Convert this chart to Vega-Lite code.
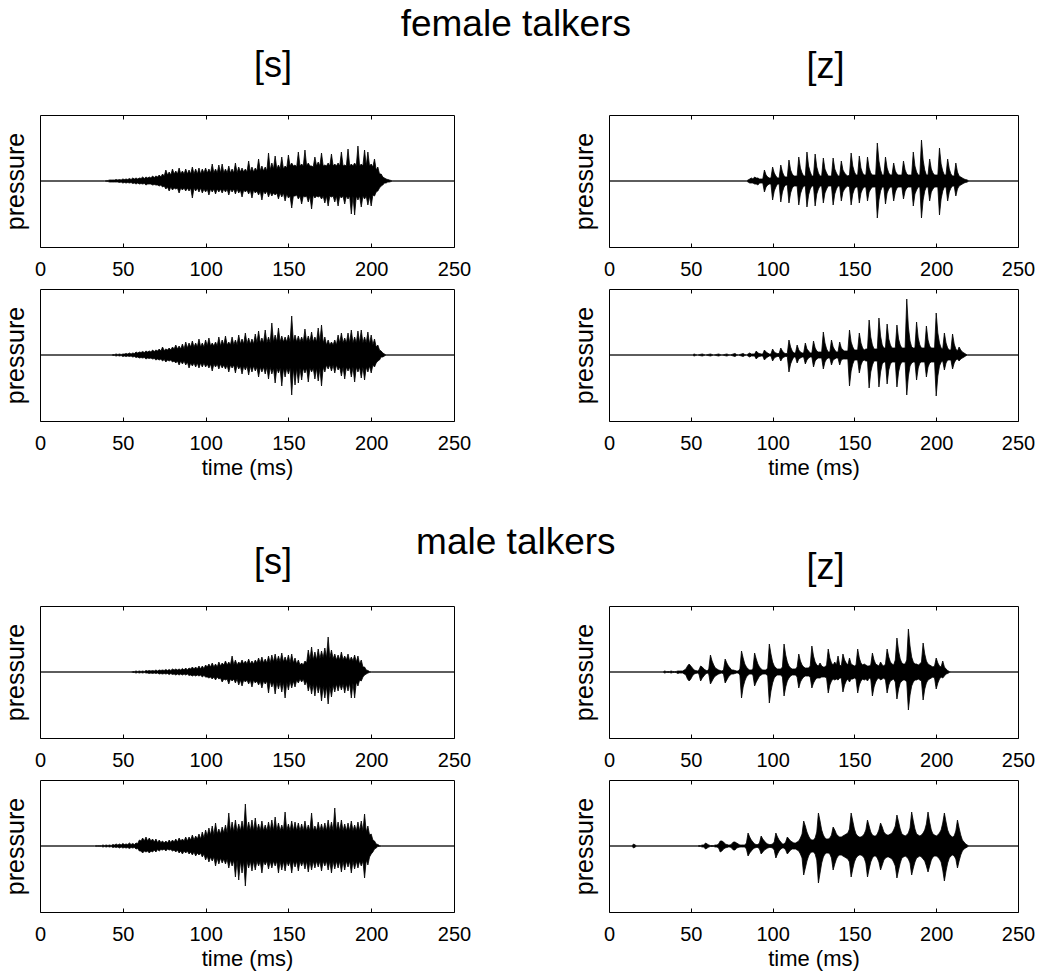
{
  "$schema": "https://vega.github.io/schema/vega-lite/v6.json",
  "padding": {"left": 2, "top": 6, "right": 5, "bottom": 5},
  "background": "white",
  "config": {
    "font": "Liberation Sans",
    "view": {"stroke": "black", "strokeWidth": 1},
    "axis": {"labelColor": "black", "titleColor": "black", "titleFontWeight": "normal", "grid": false, "labelFont": "Liberation Sans", "titleFont": "Liberation Sans", "tickColor": "black"},
    "title": {"fontWeight": "normal", "color": "black", "fontSize": 36, "font": "Liberation Sans"}
  },
  "datasets": {
    "fs1": [{"t":0,"h":0,"l":0},{"t":39,"h":0,"l":0},{"t":40,"h":0.5,"l":-0.5},{"t":41,"h":0.5,"l":-0.5},{"t":42,"h":1,"l":-1},{"t":43,"h":1,"l":-1},{"t":44,"h":1,"l":-1},{"t":45,"h":1,"l":-1},{"t":46,"h":1.5,"l":-1},{"t":47,"h":1,"l":-1},{"t":48,"h":1.5,"l":-1.5},{"t":49,"h":1,"l":-1},{"t":50,"h":2,"l":-2},{"t":51,"h":1.5,"l":-1.5},{"t":52,"h":2,"l":-2},{"t":53,"h":1.5,"l":-1.5},{"t":54,"h":2.5,"l":-2},{"t":55,"h":1.5,"l":-1.5},{"t":56,"h":3,"l":-2.5},{"t":57,"h":2,"l":-2},{"t":58,"h":3,"l":-3},{"t":59,"h":2,"l":-2},{"t":60,"h":3,"l":-3},{"t":61,"h":2.5,"l":-2.5},{"t":62,"h":4,"l":-3},{"t":63,"h":2.5,"l":-2.5},{"t":64,"h":4,"l":-4},{"t":65,"h":3,"l":-3},{"t":66,"h":4,"l":-3},{"t":67,"h":3,"l":-3},{"t":68,"h":5,"l":-4},{"t":69,"h":3.5,"l":-3.5},{"t":70,"h":5,"l":-4},{"t":71,"h":4,"l":-4},{"t":72,"h":6,"l":-5},{"t":73,"h":4,"l":-4},{"t":74,"h":7,"l":-6},{"t":75,"h":5,"l":-5},{"t":76,"h":11,"l":-8},{"t":77,"h":6,"l":-6},{"t":78,"h":9,"l":-10},{"t":79,"h":6,"l":-6},{"t":80,"h":12,"l":-9},{"t":81,"h":7,"l":-7},{"t":82,"h":10,"l":-8},{"t":83,"h":7,"l":-7},{"t":84,"h":13,"l":-12},{"t":85,"h":7,"l":-7},{"t":86,"h":10,"l":-9},{"t":87,"h":7,"l":-7},{"t":88,"h":12,"l":-10},{"t":89,"h":7,"l":-7},{"t":90,"h":11,"l":-10},{"t":91,"h":7,"l":-7},{"t":92,"h":14,"l":-17},{"t":93,"h":7,"l":-7},{"t":94,"h":12,"l":-10},{"t":95,"h":7,"l":-7},{"t":96,"h":13,"l":-11},{"t":97,"h":7,"l":-7},{"t":98,"h":12,"l":-12},{"t":99,"h":8,"l":-8},{"t":100,"h":13,"l":-11},{"t":101,"h":8,"l":-8},{"t":102,"h":12,"l":-14},{"t":103,"h":8,"l":-8},{"t":104,"h":17,"l":-11},{"t":105,"h":8,"l":-8},{"t":106,"h":12,"l":-13},{"t":107,"h":8,"l":-8},{"t":108,"h":16,"l":-11},{"t":109,"h":8,"l":-8},{"t":110,"h":17,"l":-12},{"t":111,"h":8,"l":-8},{"t":112,"h":12,"l":-11},{"t":113,"h":8,"l":-8},{"t":114,"h":15,"l":-14},{"t":115,"h":8,"l":-8},{"t":116,"h":12,"l":-11},{"t":117,"h":8,"l":-8},{"t":118,"h":18,"l":-13},{"t":119,"h":8,"l":-8},{"t":120,"h":14,"l":-12},{"t":121,"h":9,"l":-9},{"t":122,"h":13,"l":-16},{"t":123,"h":9,"l":-9},{"t":124,"h":12,"l":-11},{"t":125,"h":9,"l":-9},{"t":126,"h":20,"l":-13},{"t":127,"h":9,"l":-9},{"t":128,"h":14,"l":-17},{"t":129,"h":9,"l":-9},{"t":130,"h":13,"l":-12},{"t":131,"h":10,"l":-10},{"t":132,"h":22,"l":-14},{"t":133,"h":10,"l":-10},{"t":134,"h":15,"l":-19},{"t":135,"h":10,"l":-10},{"t":136,"h":14,"l":-13},{"t":137,"h":10,"l":-10},{"t":138,"h":28,"l":-16},{"t":139,"h":11,"l":-11},{"t":140,"h":18,"l":-15},{"t":141,"h":12,"l":-12},{"t":142,"h":25,"l":-14},{"t":143,"h":12,"l":-12},{"t":144,"h":16,"l":-18},{"t":145,"h":12,"l":-12},{"t":146,"h":24,"l":-16},{"t":147,"h":12,"l":-12},{"t":148,"h":15,"l":-20},{"t":149,"h":13,"l":-13},{"t":150,"h":26,"l":-17},{"t":151,"h":15,"l":-15},{"t":152,"h":18,"l":-27},{"t":153,"h":15,"l":-15},{"t":154,"h":16,"l":-15},{"t":155,"h":14,"l":-14},{"t":156,"h":29,"l":-18},{"t":157,"h":15,"l":-15},{"t":158,"h":17,"l":-23},{"t":159,"h":15,"l":-15},{"t":160,"h":31,"l":-16},{"t":161,"h":15,"l":-15},{"t":162,"h":18,"l":-21},{"t":163,"h":15,"l":-15},{"t":164,"h":15,"l":-28},{"t":165,"h":14,"l":-14},{"t":166,"h":24,"l":-17},{"t":167,"h":15,"l":-15},{"t":168,"h":19,"l":-16},{"t":169,"h":15,"l":-15},{"t":170,"h":28,"l":-18},{"t":171,"h":15,"l":-15},{"t":172,"h":16,"l":-22},{"t":173,"h":15,"l":-15},{"t":174,"h":18,"l":-25},{"t":175,"h":15,"l":-15},{"t":176,"h":27,"l":-16},{"t":177,"h":15,"l":-15},{"t":178,"h":17,"l":-21},{"t":179,"h":15,"l":-15},{"t":180,"h":18,"l":-25},{"t":181,"h":15,"l":-15},{"t":182,"h":29,"l":-17},{"t":183,"h":15,"l":-15},{"t":184,"h":16,"l":-23},{"t":185,"h":15,"l":-15},{"t":186,"h":32,"l":-18},{"t":187,"h":15,"l":-15},{"t":188,"h":17,"l":-33},{"t":189,"h":15,"l":-15},{"t":190,"h":18,"l":-34},{"t":191,"h":15,"l":-15},{"t":192,"h":35,"l":-19},{"t":193,"h":15,"l":-15},{"t":194,"h":17,"l":-26},{"t":195,"h":15,"l":-15},{"t":196,"h":31,"l":-18},{"t":197,"h":15,"l":-15},{"t":198,"h":29,"l":-24},{"t":199,"h":15,"l":-15},{"t":200,"h":17,"l":-25},{"t":201,"h":14,"l":-14},{"t":202,"h":22,"l":-15},{"t":203,"h":11,"l":-11},{"t":204,"h":14,"l":-10},{"t":205,"h":7,"l":-7},{"t":206,"h":7,"l":-5},{"t":207,"h":4,"l":-4},{"t":208,"h":3,"l":-2},{"t":209,"h":2,"l":-2},{"t":210,"h":1.5,"l":-1},{"t":211,"h":1,"l":-1},{"t":212,"h":0.5,"l":-0.5},{"t":213,"h":0,"l":0},{"t":250,"h":0,"l":0}],
    "fs2": [{"t":0,"h":0,"l":0},{"t":43,"h":0,"l":0},{"t":44,"h":0.5,"l":-0.5},{"t":45,"h":0.5,"l":-0.5},{"t":46,"h":1,"l":-1},{"t":47,"h":0.5,"l":-0.5},{"t":48,"h":1,"l":-1},{"t":49,"h":0.5,"l":-0.5},{"t":50,"h":1,"l":-1.5},{"t":51,"h":1,"l":-1},{"t":52,"h":1.5,"l":-1.5},{"t":53,"h":1,"l":-1},{"t":54,"h":2,"l":-1.5},{"t":55,"h":1,"l":-1},{"t":56,"h":2,"l":-2},{"t":57,"h":1.5,"l":-1.5},{"t":58,"h":3,"l":-2.5},{"t":59,"h":2,"l":-2},{"t":60,"h":3,"l":-3},{"t":61,"h":2.5,"l":-2.5},{"t":62,"h":3.5,"l":-3},{"t":63,"h":2.5,"l":-2.5},{"t":64,"h":4,"l":-4},{"t":65,"h":3,"l":-3},{"t":66,"h":4,"l":-3.5},{"t":67,"h":3,"l":-3},{"t":68,"h":5,"l":-4},{"t":69,"h":3.5,"l":-3.5},{"t":70,"h":5,"l":-5},{"t":71,"h":4,"l":-4},{"t":72,"h":6,"l":-5},{"t":73,"h":4,"l":-4},{"t":74,"h":8,"l":-6},{"t":75,"h":4.5,"l":-4.5},{"t":76,"h":6,"l":-7},{"t":77,"h":5,"l":-5},{"t":78,"h":7,"l":-6},{"t":79,"h":5,"l":-5},{"t":80,"h":8,"l":-7},{"t":81,"h":6,"l":-6},{"t":82,"h":10,"l":-8},{"t":83,"h":6,"l":-6},{"t":84,"h":9,"l":-10},{"t":85,"h":6,"l":-6},{"t":86,"h":11,"l":-9},{"t":87,"h":6,"l":-6},{"t":88,"h":13,"l":-10},{"t":89,"h":7,"l":-7},{"t":90,"h":12,"l":-13},{"t":91,"h":8,"l":-8},{"t":92,"h":14,"l":-11},{"t":93,"h":8,"l":-8},{"t":94,"h":12,"l":-12},{"t":95,"h":8,"l":-8},{"t":96,"h":16,"l":-13},{"t":97,"h":8,"l":-8},{"t":98,"h":12,"l":-12},{"t":99,"h":8,"l":-8},{"t":100,"h":15,"l":-12},{"t":101,"h":9,"l":-9},{"t":102,"h":17,"l":-13},{"t":103,"h":9,"l":-9},{"t":104,"h":12,"l":-16},{"t":105,"h":9,"l":-9},{"t":106,"h":13,"l":-12},{"t":107,"h":9,"l":-9},{"t":108,"h":18,"l":-14},{"t":109,"h":9,"l":-9},{"t":110,"h":15,"l":-13},{"t":111,"h":10,"l":-10},{"t":112,"h":19,"l":-14},{"t":113,"h":10,"l":-10},{"t":114,"h":13,"l":-17},{"t":115,"h":10,"l":-10},{"t":116,"h":18,"l":-13},{"t":117,"h":10,"l":-10},{"t":118,"h":15,"l":-18},{"t":119,"h":10,"l":-10},{"t":120,"h":20,"l":-14},{"t":121,"h":11,"l":-11},{"t":122,"h":16,"l":-19},{"t":123,"h":11,"l":-11},{"t":124,"h":22,"l":-15},{"t":125,"h":11,"l":-11},{"t":126,"h":17,"l":-20},{"t":127,"h":11,"l":-11},{"t":128,"h":16,"l":-17},{"t":129,"h":11,"l":-11},{"t":130,"h":21,"l":-16},{"t":131,"h":12,"l":-12},{"t":132,"h":24,"l":-22},{"t":133,"h":12,"l":-12},{"t":134,"h":17,"l":-17},{"t":135,"h":12,"l":-12},{"t":136,"h":25,"l":-19},{"t":137,"h":12,"l":-12},{"t":138,"h":18,"l":-24},{"t":139,"h":12,"l":-12},{"t":140,"h":32,"l":-19},{"t":141,"h":13,"l":-13},{"t":142,"h":20,"l":-28},{"t":143,"h":13,"l":-13},{"t":144,"h":27,"l":-18},{"t":145,"h":13,"l":-13},{"t":146,"h":19,"l":-31},{"t":147,"h":13,"l":-13},{"t":148,"h":18,"l":-22},{"t":149,"h":13,"l":-13},{"t":150,"h":20,"l":-19},{"t":151,"h":13,"l":-13},{"t":152,"h":39,"l":-40},{"t":153,"h":13,"l":-13},{"t":154,"h":20,"l":-30},{"t":155,"h":13,"l":-13},{"t":156,"h":19,"l":-28},{"t":157,"h":13,"l":-13},{"t":158,"h":18,"l":-25},{"t":159,"h":13,"l":-13},{"t":160,"h":26,"l":-18},{"t":161,"h":13,"l":-13},{"t":162,"h":19,"l":-27},{"t":163,"h":13,"l":-13},{"t":164,"h":23,"l":-17},{"t":165,"h":13,"l":-13},{"t":166,"h":18,"l":-24},{"t":167,"h":13,"l":-13},{"t":168,"h":27,"l":-26},{"t":169,"h":13,"l":-13},{"t":170,"h":30,"l":-31},{"t":171,"h":12,"l":-12},{"t":172,"h":18,"l":-17},{"t":173,"h":10,"l":-10},{"t":174,"h":15,"l":-14},{"t":175,"h":10,"l":-10},{"t":176,"h":13,"l":-16},{"t":177,"h":10,"l":-10},{"t":178,"h":15,"l":-18},{"t":179,"h":10,"l":-10},{"t":180,"h":20,"l":-15},{"t":181,"h":12,"l":-12},{"t":182,"h":22,"l":-21},{"t":183,"h":12,"l":-12},{"t":184,"h":17,"l":-24},{"t":185,"h":12,"l":-12},{"t":186,"h":22,"l":-16},{"t":187,"h":12,"l":-12},{"t":188,"h":25,"l":-22},{"t":189,"h":12,"l":-12},{"t":190,"h":18,"l":-27},{"t":191,"h":12,"l":-12},{"t":192,"h":24,"l":-17},{"t":193,"h":12,"l":-12},{"t":194,"h":25,"l":-23},{"t":195,"h":12,"l":-12},{"t":196,"h":18,"l":-25},{"t":197,"h":12,"l":-12},{"t":198,"h":23,"l":-17},{"t":199,"h":11,"l":-11},{"t":200,"h":20,"l":-18},{"t":201,"h":10,"l":-10},{"t":202,"h":16,"l":-12},{"t":203,"h":8,"l":-8},{"t":204,"h":10,"l":-6},{"t":205,"h":5,"l":-5},{"t":206,"h":4,"l":-2},{"t":207,"h":2,"l":-2},{"t":208,"h":1,"l":-1},{"t":209,"h":0,"l":0},{"t":250,"h":0,"l":0}],
    "fz1": [{"t":0,"h":0,"l":0},{"t":84,"h":0,"l":0},{"t":85,"h":1,"l":-1},{"t":86,"h":2,"l":-2},{"t":87,"h":3,"l":-2},{"t":88,"h":2,"l":-2},{"t":89,"h":4,"l":-3},{"t":90,"h":3,"l":-3},{"t":91,"h":3,"l":-4},{"t":92,"h":2,"l":-2},{"t":93,"h":2,"l":-2},{"t":94,"h":2,"l":-2},{"t":95,"h":11,"l":-11},{"t":96,"h":6,"l":-6},{"t":97,"h":4,"l":-4},{"t":98,"h":3,"l":-3},{"t":99,"h":3,"l":-3},{"t":100,"h":14,"l":-19},{"t":101,"h":8,"l":-10},{"t":102,"h":5,"l":-6},{"t":103,"h":3,"l":-3},{"t":104,"h":3,"l":-3},{"t":105,"h":16,"l":-21},{"t":106,"h":9,"l":-11},{"t":107,"h":5,"l":-6},{"t":108,"h":4,"l":-4},{"t":109,"h":4,"l":-4},{"t":110,"h":21,"l":-22},{"t":111,"h":11,"l":-12},{"t":112,"h":7,"l":-7},{"t":113,"h":5,"l":-5},{"t":114,"h":5,"l":-5},{"t":115,"h":5,"l":-5},{"t":116,"h":24,"l":-24},{"t":117,"h":13,"l":-13},{"t":118,"h":8,"l":-8},{"t":119,"h":5,"l":-5},{"t":120,"h":5,"l":-5},{"t":121,"h":29,"l":-26},{"t":122,"h":15,"l":-14},{"t":123,"h":9,"l":-8},{"t":124,"h":5,"l":-5},{"t":125,"h":5,"l":-5},{"t":126,"h":27,"l":-25},{"t":127,"h":14,"l":-13},{"t":128,"h":8,"l":-8},{"t":129,"h":5,"l":-5},{"t":130,"h":5,"l":-5},{"t":131,"h":23,"l":-22},{"t":132,"h":12,"l":-12},{"t":133,"h":8,"l":-8},{"t":134,"h":5,"l":-5},{"t":135,"h":5,"l":-5},{"t":136,"h":5,"l":-5},{"t":137,"h":23,"l":-24},{"t":138,"h":12,"l":-13},{"t":139,"h":8,"l":-8},{"t":140,"h":5,"l":-5},{"t":141,"h":5,"l":-5},{"t":142,"h":20,"l":-20},{"t":143,"h":11,"l":-11},{"t":144,"h":8,"l":-8},{"t":145,"h":6,"l":-6},{"t":146,"h":5,"l":-5},{"t":147,"h":6,"l":-6},{"t":148,"h":28,"l":-24},{"t":149,"h":15,"l":-13},{"t":150,"h":9,"l":-8},{"t":151,"h":6,"l":-6},{"t":152,"h":6,"l":-6},{"t":153,"h":25,"l":-22},{"t":154,"h":13,"l":-12},{"t":155,"h":8,"l":-8},{"t":156,"h":6,"l":-6},{"t":157,"h":6,"l":-6},{"t":158,"h":24,"l":-20},{"t":159,"h":13,"l":-11},{"t":160,"h":8,"l":-8},{"t":161,"h":6,"l":-6},{"t":162,"h":6,"l":-6},{"t":163,"h":6,"l":-6},{"t":164,"h":38,"l":-37},{"t":165,"h":20,"l":-19},{"t":166,"h":11,"l":-10},{"t":167,"h":6,"l":-6},{"t":168,"h":6,"l":-6},{"t":169,"h":24,"l":-23},{"t":170,"h":13,"l":-12},{"t":171,"h":8,"l":-8},{"t":172,"h":6,"l":-6},{"t":173,"h":6,"l":-6},{"t":174,"h":18,"l":-20},{"t":175,"h":10,"l":-11},{"t":176,"h":7,"l":-7},{"t":177,"h":6,"l":-6},{"t":178,"h":6,"l":-6},{"t":179,"h":6,"l":-6},{"t":180,"h":20,"l":-18},{"t":181,"h":11,"l":-10},{"t":182,"h":7,"l":-7},{"t":183,"h":6,"l":-6},{"t":184,"h":6,"l":-6},{"t":185,"h":6,"l":-6},{"t":186,"h":29,"l":-25},{"t":187,"h":15,"l":-13},{"t":188,"h":9,"l":-9},{"t":189,"h":6,"l":-6},{"t":190,"h":6,"l":-6},{"t":191,"h":41,"l":-37},{"t":192,"h":21,"l":-19},{"t":193,"h":11,"l":-10},{"t":194,"h":6,"l":-6},{"t":195,"h":6,"l":-6},{"t":196,"h":22,"l":-20},{"t":197,"h":12,"l":-11},{"t":198,"h":8,"l":-8},{"t":199,"h":6,"l":-6},{"t":200,"h":6,"l":-6},{"t":201,"h":6,"l":-6},{"t":202,"h":33,"l":-34},{"t":203,"h":17,"l":-18},{"t":204,"h":10,"l":-10},{"t":205,"h":6,"l":-6},{"t":206,"h":6,"l":-6},{"t":207,"h":22,"l":-20},{"t":208,"h":12,"l":-11},{"t":209,"h":7,"l":-7},{"t":210,"h":5,"l":-5},{"t":211,"h":5,"l":-5},{"t":212,"h":18,"l":-15},{"t":213,"h":9,"l":-8},{"t":214,"h":5,"l":-5},{"t":215,"h":4,"l":-4},{"t":216,"h":3,"l":-3},{"t":217,"h":2,"l":-2},{"t":218,"h":1.5,"l":-1.5},{"t":219,"h":1,"l":-1},{"t":220,"h":0,"l":0},{"t":250,"h":0,"l":0}],
    "fz2": [{"t":0,"h":0,"l":0},{"t":51,"h":0,"l":0},{"t":52,"h":1,"l":-1},{"t":53,"h":0.5,"l":-0.5},{"t":54,"h":0,"l":0},{"t":57,"h":1,"l":-1},{"t":58,"h":0.5,"l":-0.5},{"t":59,"h":0,"l":0},{"t":62,"h":1,"l":-1},{"t":63,"h":0.5,"l":-0.5},{"t":64,"h":0,"l":0},{"t":67,"h":1,"l":-1},{"t":68,"h":0.5,"l":-0.5},{"t":69,"h":0,"l":0},{"t":72,"h":1,"l":-1},{"t":73,"h":0.5,"l":-0.5},{"t":74,"h":0,"l":0},{"t":77,"h":1.5,"l":-1.5},{"t":78,"h":0.5,"l":-0.5},{"t":79,"h":0,"l":0},{"t":82,"h":1.5,"l":-1.5},{"t":83,"h":0.5,"l":-0.5},{"t":84,"h":0,"l":0},{"t":86,"h":2,"l":-2},{"t":87,"h":1,"l":-1},{"t":88,"h":1,"l":-1},{"t":89,"h":1,"l":-1},{"t":90,"h":4,"l":-4},{"t":91,"h":2,"l":-2},{"t":92,"h":1.5,"l":-1.5},{"t":93,"h":1,"l":-1},{"t":94,"h":1,"l":-1},{"t":95,"h":5,"l":-5},{"t":96,"h":3,"l":-3},{"t":97,"h":2,"l":-2},{"t":98,"h":1,"l":-1},{"t":99,"h":1,"l":-1},{"t":100,"h":6,"l":-6},{"t":101,"h":3,"l":-3},{"t":102,"h":2,"l":-2},{"t":103,"h":1.5,"l":-1.5},{"t":104,"h":1.5,"l":-1.5},{"t":105,"h":7,"l":-6},{"t":106,"h":4,"l":-3},{"t":107,"h":2,"l":-2},{"t":108,"h":1.5,"l":-1.5},{"t":109,"h":1.5,"l":-1.5},{"t":110,"h":15,"l":-17},{"t":111,"h":8,"l":-9},{"t":112,"h":4,"l":-5},{"t":113,"h":2,"l":-2},{"t":114,"h":2,"l":-2},{"t":115,"h":10,"l":-8},{"t":116,"h":5,"l":-4},{"t":117,"h":3,"l":-3},{"t":118,"h":2,"l":-2},{"t":119,"h":2,"l":-2},{"t":120,"h":12,"l":-9},{"t":121,"h":6,"l":-5},{"t":122,"h":4,"l":-3},{"t":123,"h":2,"l":-2},{"t":124,"h":2,"l":-2},{"t":125,"h":14,"l":-12},{"t":126,"h":7,"l":-6},{"t":127,"h":4,"l":-4},{"t":128,"h":3,"l":-3},{"t":129,"h":3,"l":-3},{"t":130,"h":3,"l":-3},{"t":131,"h":23,"l":-14},{"t":132,"h":12,"l":-7},{"t":133,"h":6,"l":-4},{"t":134,"h":3,"l":-3},{"t":135,"h":3,"l":-3},{"t":136,"h":15,"l":-10},{"t":137,"h":8,"l":-5},{"t":138,"h":5,"l":-4},{"t":139,"h":3,"l":-3},{"t":140,"h":3,"l":-3},{"t":141,"h":13,"l":-10},{"t":142,"h":7,"l":-5},{"t":143,"h":5,"l":-4},{"t":144,"h":4,"l":-4},{"t":145,"h":4,"l":-4},{"t":146,"h":4,"l":-4},{"t":147,"h":25,"l":-31},{"t":148,"h":13,"l":-16},{"t":149,"h":8,"l":-9},{"t":150,"h":5,"l":-5},{"t":151,"h":5,"l":-5},{"t":152,"h":5,"l":-5},{"t":153,"h":22,"l":-18},{"t":154,"h":12,"l":-10},{"t":155,"h":7,"l":-6},{"t":156,"h":5,"l":-5},{"t":157,"h":6,"l":-6},{"t":158,"h":6,"l":-6},{"t":159,"h":35,"l":-33},{"t":160,"h":18,"l":-17},{"t":161,"h":10,"l":-10},{"t":162,"h":6,"l":-6},{"t":163,"h":6,"l":-6},{"t":164,"h":6,"l":-6},{"t":165,"h":37,"l":-32},{"t":166,"h":19,"l":-17},{"t":167,"h":10,"l":-9},{"t":168,"h":7,"l":-7},{"t":169,"h":7,"l":-7},{"t":170,"h":31,"l":-29},{"t":171,"h":16,"l":-15},{"t":172,"h":10,"l":-9},{"t":173,"h":7,"l":-7},{"t":174,"h":7,"l":-7},{"t":175,"h":7,"l":-7},{"t":176,"h":30,"l":-32},{"t":177,"h":16,"l":-17},{"t":178,"h":10,"l":-10},{"t":179,"h":7,"l":-7},{"t":180,"h":7,"l":-7},{"t":181,"h":7,"l":-7},{"t":182,"h":56,"l":-40},{"t":183,"h":28,"l":-21},{"t":184,"h":14,"l":-11},{"t":185,"h":8,"l":-8},{"t":186,"h":7,"l":-7},{"t":187,"h":7,"l":-7},{"t":188,"h":33,"l":-25},{"t":189,"h":17,"l":-13},{"t":190,"h":10,"l":-8},{"t":191,"h":7,"l":-7},{"t":192,"h":7,"l":-7},{"t":193,"h":7,"l":-7},{"t":194,"h":29,"l":-22},{"t":195,"h":15,"l":-12},{"t":196,"h":9,"l":-8},{"t":197,"h":7,"l":-7},{"t":198,"h":7,"l":-7},{"t":199,"h":7,"l":-7},{"t":200,"h":42,"l":-41},{"t":201,"h":22,"l":-21},{"t":202,"h":12,"l":-11},{"t":203,"h":7,"l":-7},{"t":204,"h":6,"l":-6},{"t":205,"h":22,"l":-15},{"t":206,"h":12,"l":-8},{"t":207,"h":7,"l":-5},{"t":208,"h":5,"l":-5},{"t":209,"h":5,"l":-5},{"t":210,"h":21,"l":-14},{"t":211,"h":11,"l":-8},{"t":212,"h":6,"l":-5},{"t":213,"h":4,"l":-4},{"t":214,"h":8,"l":-6},{"t":215,"h":5,"l":-4},{"t":216,"h":3,"l":-3},{"t":217,"h":2,"l":-2},{"t":218,"h":1,"l":-1},{"t":219,"h":0,"l":0},{"t":250,"h":0,"l":0}],
    "ms1": [{"t":0,"h":0,"l":0},{"t":55,"h":0,"l":0},{"t":56,"h":0.5,"l":-0.5},{"t":57,"h":0.5,"l":-0.5},{"t":58,"h":1,"l":-1},{"t":59,"h":0.5,"l":-0.5},{"t":60,"h":1,"l":-1},{"t":61,"h":0.5,"l":-0.5},{"t":62,"h":1,"l":-1},{"t":63,"h":0.5,"l":-0.5},{"t":64,"h":1.5,"l":-1},{"t":65,"h":1,"l":-1},{"t":66,"h":1.5,"l":-1.5},{"t":67,"h":1,"l":-1},{"t":68,"h":1.5,"l":-1.5},{"t":69,"h":1,"l":-1},{"t":70,"h":2,"l":-1.5},{"t":71,"h":1,"l":-1},{"t":72,"h":2,"l":-2},{"t":73,"h":1.5,"l":-1.5},{"t":74,"h":2,"l":-2},{"t":75,"h":1.5,"l":-1.5},{"t":76,"h":2.5,"l":-2},{"t":77,"h":1.5,"l":-1.5},{"t":78,"h":2.5,"l":-2.5},{"t":79,"h":1.5,"l":-1.5},{"t":80,"h":3,"l":-2.5},{"t":81,"h":2,"l":-2},{"t":82,"h":3,"l":-3},{"t":83,"h":2,"l":-2},{"t":84,"h":3,"l":-3},{"t":85,"h":2,"l":-2},{"t":86,"h":3.5,"l":-3},{"t":87,"h":2,"l":-2},{"t":88,"h":4,"l":-3},{"t":89,"h":2,"l":-2},{"t":90,"h":4,"l":-3.5},{"t":91,"h":3,"l":-3},{"t":92,"h":5,"l":-4},{"t":93,"h":3,"l":-3},{"t":94,"h":5,"l":-4},{"t":95,"h":3,"l":-3},{"t":96,"h":6,"l":-4},{"t":97,"h":3,"l":-3},{"t":98,"h":6,"l":-5},{"t":99,"h":3.5,"l":-3.5},{"t":100,"h":7,"l":-5},{"t":101,"h":5,"l":-5},{"t":102,"h":8,"l":-6},{"t":103,"h":5,"l":-5},{"t":104,"h":9,"l":-7},{"t":105,"h":5,"l":-5},{"t":106,"h":8,"l":-8},{"t":107,"h":5,"l":-5},{"t":108,"h":10,"l":-7},{"t":109,"h":6,"l":-6},{"t":110,"h":9,"l":-10},{"t":111,"h":7,"l":-7},{"t":112,"h":11,"l":-8},{"t":113,"h":7,"l":-7},{"t":114,"h":10,"l":-12},{"t":115,"h":7,"l":-7},{"t":116,"h":16,"l":-9},{"t":117,"h":7,"l":-7},{"t":118,"h":12,"l":-11},{"t":119,"h":7,"l":-7},{"t":120,"h":10,"l":-13},{"t":121,"h":8,"l":-8},{"t":122,"h":12,"l":-14},{"t":123,"h":8,"l":-8},{"t":124,"h":11,"l":-10},{"t":125,"h":8,"l":-8},{"t":126,"h":13,"l":-12},{"t":127,"h":8,"l":-8},{"t":128,"h":11,"l":-15},{"t":129,"h":8,"l":-8},{"t":130,"h":12,"l":-11},{"t":131,"h":9,"l":-9},{"t":132,"h":14,"l":-13},{"t":133,"h":9,"l":-9},{"t":134,"h":15,"l":-16},{"t":135,"h":9,"l":-9},{"t":136,"h":13,"l":-12},{"t":137,"h":9,"l":-9},{"t":138,"h":16,"l":-21},{"t":139,"h":9,"l":-9},{"t":140,"h":17,"l":-15},{"t":141,"h":10,"l":-10},{"t":142,"h":18,"l":-22},{"t":143,"h":10,"l":-10},{"t":144,"h":16,"l":-17},{"t":145,"h":10,"l":-10},{"t":146,"h":19,"l":-20},{"t":147,"h":10,"l":-10},{"t":148,"h":15,"l":-26},{"t":149,"h":10,"l":-10},{"t":150,"h":17,"l":-18},{"t":151,"h":9,"l":-9},{"t":152,"h":18,"l":-16},{"t":153,"h":9,"l":-9},{"t":154,"h":14,"l":-15},{"t":155,"h":8,"l":-8},{"t":156,"h":12,"l":-11},{"t":157,"h":7,"l":-7},{"t":158,"h":9,"l":-10},{"t":159,"h":7,"l":-7},{"t":160,"h":11,"l":-13},{"t":161,"h":9,"l":-9},{"t":162,"h":22,"l":-19},{"t":163,"h":12,"l":-12},{"t":164,"h":25,"l":-22},{"t":165,"h":12,"l":-12},{"t":166,"h":20,"l":-24},{"t":167,"h":12,"l":-12},{"t":168,"h":23,"l":-21},{"t":169,"h":13,"l":-13},{"t":170,"h":21,"l":-29},{"t":171,"h":14,"l":-14},{"t":172,"h":24,"l":-26},{"t":173,"h":14,"l":-14},{"t":174,"h":35,"l":-32},{"t":175,"h":14,"l":-14},{"t":176,"h":22,"l":-25},{"t":177,"h":13,"l":-13},{"t":178,"h":18,"l":-20},{"t":179,"h":12,"l":-12},{"t":180,"h":17,"l":-19},{"t":181,"h":12,"l":-12},{"t":182,"h":20,"l":-18},{"t":183,"h":12,"l":-12},{"t":184,"h":16,"l":-21},{"t":185,"h":12,"l":-12},{"t":186,"h":18,"l":-19},{"t":187,"h":11,"l":-11},{"t":188,"h":15,"l":-26},{"t":189,"h":11,"l":-11},{"t":190,"h":17,"l":-26},{"t":191,"h":10,"l":-10},{"t":192,"h":16,"l":-14},{"t":193,"h":8,"l":-8},{"t":194,"h":12,"l":-9},{"t":195,"h":5,"l":-5},{"t":196,"h":5,"l":-3},{"t":197,"h":2,"l":-2},{"t":198,"h":1.5,"l":-1},{"t":199,"h":0.5,"l":-0.5},{"t":200,"h":0,"l":0},{"t":250,"h":0,"l":0}],
    "ms2": [{"t":0,"h":0,"l":0},{"t":33,"h":0,"l":0},{"t":34,"h":0.5,"l":-0.5},{"t":35,"h":0.3,"l":-0.3},{"t":36,"h":0.5,"l":-0.5},{"t":37,"h":0.3,"l":-0.3},{"t":38,"h":1,"l":-1},{"t":39,"h":0.5,"l":-0.5},{"t":40,"h":1,"l":-1},{"t":41,"h":0.5,"l":-0.5},{"t":42,"h":1,"l":-1},{"t":43,"h":0.5,"l":-0.5},{"t":44,"h":1.5,"l":-1.5},{"t":45,"h":1,"l":-1},{"t":46,"h":2,"l":-1.5},{"t":47,"h":1,"l":-1},{"t":48,"h":2,"l":-2},{"t":49,"h":1,"l":-1},{"t":50,"h":2.5,"l":-2},{"t":51,"h":1.5,"l":-1.5},{"t":52,"h":2,"l":-2},{"t":53,"h":1.5,"l":-1.5},{"t":54,"h":3,"l":-2.5},{"t":55,"h":1.5,"l":-1.5},{"t":56,"h":2.5,"l":-2},{"t":57,"h":1.5,"l":-1.5},{"t":58,"h":3,"l":-3},{"t":59,"h":2.5,"l":-2.5},{"t":60,"h":6,"l":-5},{"t":61,"h":5,"l":-5},{"t":62,"h":8,"l":-7},{"t":63,"h":5,"l":-5},{"t":64,"h":9,"l":-6},{"t":65,"h":5,"l":-5},{"t":66,"h":8,"l":-7},{"t":67,"h":5,"l":-5},{"t":68,"h":7,"l":-6},{"t":69,"h":4,"l":-4},{"t":70,"h":7,"l":-6},{"t":71,"h":3.5,"l":-3.5},{"t":72,"h":6,"l":-5},{"t":73,"h":3.5,"l":-3.5},{"t":74,"h":5,"l":-4},{"t":75,"h":3,"l":-3},{"t":76,"h":5,"l":-5},{"t":77,"h":3,"l":-3},{"t":78,"h":6,"l":-4},{"t":79,"h":3.5,"l":-3.5},{"t":80,"h":6,"l":-5},{"t":81,"h":4,"l":-4},{"t":82,"h":7,"l":-6},{"t":83,"h":4,"l":-4},{"t":84,"h":8,"l":-7},{"t":85,"h":5,"l":-5},{"t":86,"h":7,"l":-8},{"t":87,"h":5,"l":-5},{"t":88,"h":9,"l":-7},{"t":89,"h":5,"l":-5},{"t":90,"h":9,"l":-8},{"t":91,"h":6,"l":-6},{"t":92,"h":11,"l":-9},{"t":93,"h":6,"l":-6},{"t":94,"h":10,"l":-10},{"t":95,"h":7,"l":-7},{"t":96,"h":12,"l":-9},{"t":97,"h":7,"l":-7},{"t":98,"h":14,"l":-11},{"t":99,"h":8,"l":-8},{"t":100,"h":16,"l":-14},{"t":101,"h":10,"l":-10},{"t":102,"h":18,"l":-16},{"t":103,"h":11,"l":-11},{"t":104,"h":20,"l":-15},{"t":105,"h":11,"l":-11},{"t":106,"h":23,"l":-20},{"t":107,"h":12,"l":-12},{"t":108,"h":17,"l":-18},{"t":109,"h":12,"l":-12},{"t":110,"h":19,"l":-17},{"t":111,"h":13,"l":-13},{"t":112,"h":21,"l":-18},{"t":113,"h":13,"l":-13},{"t":114,"h":33,"l":-22},{"t":115,"h":14,"l":-14},{"t":116,"h":24,"l":-20},{"t":117,"h":14,"l":-14},{"t":118,"h":26,"l":-31},{"t":119,"h":14,"l":-14},{"t":120,"h":22,"l":-34},{"t":121,"h":15,"l":-15},{"t":122,"h":25,"l":-27},{"t":123,"h":15,"l":-15},{"t":124,"h":42,"l":-40},{"t":125,"h":15,"l":-15},{"t":126,"h":24,"l":-22},{"t":127,"h":15,"l":-15},{"t":128,"h":26,"l":-25},{"t":129,"h":15,"l":-15},{"t":130,"h":28,"l":-24},{"t":131,"h":15,"l":-15},{"t":132,"h":22,"l":-20},{"t":133,"h":15,"l":-15},{"t":134,"h":25,"l":-27},{"t":135,"h":15,"l":-15},{"t":136,"h":21,"l":-19},{"t":137,"h":15,"l":-15},{"t":138,"h":24,"l":-23},{"t":139,"h":15,"l":-15},{"t":140,"h":26,"l":-22},{"t":141,"h":15,"l":-15},{"t":142,"h":29,"l":-20},{"t":143,"h":15,"l":-15},{"t":144,"h":23,"l":-27},{"t":145,"h":15,"l":-15},{"t":146,"h":21,"l":-24},{"t":147,"h":15,"l":-15},{"t":148,"h":34,"l":-25},{"t":149,"h":15,"l":-15},{"t":150,"h":22,"l":-20},{"t":151,"h":15,"l":-15},{"t":152,"h":25,"l":-27},{"t":153,"h":15,"l":-15},{"t":154,"h":24,"l":-21},{"t":155,"h":15,"l":-15},{"t":156,"h":23,"l":-25},{"t":157,"h":15,"l":-15},{"t":158,"h":22,"l":-20},{"t":159,"h":15,"l":-15},{"t":160,"h":25,"l":-23},{"t":161,"h":15,"l":-15},{"t":162,"h":21,"l":-26},{"t":163,"h":15,"l":-15},{"t":164,"h":33,"l":-24},{"t":165,"h":15,"l":-15},{"t":166,"h":20,"l":-22},{"t":167,"h":15,"l":-15},{"t":168,"h":24,"l":-21},{"t":169,"h":15,"l":-15},{"t":170,"h":22,"l":-25},{"t":171,"h":15,"l":-15},{"t":172,"h":23,"l":-20},{"t":173,"h":15,"l":-15},{"t":174,"h":26,"l":-24},{"t":175,"h":15,"l":-15},{"t":176,"h":24,"l":-27},{"t":177,"h":15,"l":-15},{"t":178,"h":38,"l":-23},{"t":179,"h":15,"l":-15},{"t":180,"h":24,"l":-22},{"t":181,"h":15,"l":-15},{"t":182,"h":26,"l":-26},{"t":183,"h":15,"l":-15},{"t":184,"h":22,"l":-24},{"t":185,"h":15,"l":-15},{"t":186,"h":23,"l":-21},{"t":187,"h":15,"l":-15},{"t":188,"h":25,"l":-27},{"t":189,"h":15,"l":-15},{"t":190,"h":21,"l":-23},{"t":191,"h":15,"l":-15},{"t":192,"h":24,"l":-22},{"t":193,"h":15,"l":-15},{"t":194,"h":25,"l":-20},{"t":195,"h":15,"l":-15},{"t":196,"h":32,"l":-32},{"t":197,"h":14,"l":-14},{"t":198,"h":20,"l":-19},{"t":199,"h":11,"l":-11},{"t":200,"h":12,"l":-8},{"t":201,"h":6,"l":-6},{"t":202,"h":5,"l":-3},{"t":203,"h":2,"l":-2},{"t":204,"h":1.5,"l":-0.5},{"t":205,"h":0.5,"l":-0.5},{"t":206,"h":0,"l":0},{"t":250,"h":0,"l":0}],
    "mz1": [{"t":0,"h":0,"l":0},{"t":33,"h":0,"l":0},{"t":34,"h":1,"l":-1},{"t":35,"h":0.5,"l":-0.5},{"t":36,"h":0.5,"l":-0.5},{"t":37,"h":0.5,"l":-0.5},{"t":38,"h":1,"l":-1},{"t":39,"h":0.5,"l":-0.5},{"t":40,"h":0.5,"l":-0.5},{"t":41,"h":0.5,"l":-0.5},{"t":42,"h":1,"l":-1.5},{"t":43,"h":1,"l":-1},{"t":44,"h":1,"l":-1},{"t":45,"h":1,"l":-1},{"t":46,"h":2,"l":-2},{"t":47,"h":3,"l":-3},{"t":48,"h":6,"l":-7},{"t":49,"h":8,"l":-9},{"t":50,"h":6,"l":-7},{"t":51,"h":4,"l":-4},{"t":52,"h":2,"l":-2},{"t":53,"h":1.5,"l":-1.5},{"t":54,"h":1,"l":-1},{"t":55,"h":2,"l":-2},{"t":56,"h":6,"l":-9},{"t":57,"h":5,"l":-6},{"t":58,"h":3,"l":-4},{"t":59,"h":2,"l":-2},{"t":60,"h":1,"l":-1},{"t":61,"h":3,"l":-2},{"t":62,"h":17,"l":-12},{"t":63,"h":11,"l":-9},{"t":64,"h":7,"l":-6},{"t":65,"h":4,"l":-4},{"t":66,"h":3,"l":-3},{"t":67,"h":2,"l":-2},{"t":68,"h":1.5,"l":-1.5},{"t":69,"h":1,"l":-1},{"t":70,"h":2,"l":-2},{"t":71,"h":13,"l":-11},{"t":72,"h":9,"l":-8},{"t":73,"h":6,"l":-5},{"t":74,"h":4,"l":-3},{"t":75,"h":2,"l":-2},{"t":76,"h":2,"l":-2},{"t":77,"h":1.5,"l":-1.5},{"t":78,"h":1,"l":-1},{"t":79,"h":1,"l":-1},{"t":80,"h":3,"l":-3},{"t":81,"h":21,"l":-26},{"t":82,"h":14,"l":-15},{"t":83,"h":8,"l":-9},{"t":84,"h":5,"l":-5},{"t":85,"h":3,"l":-3},{"t":86,"h":2,"l":-2},{"t":87,"h":2,"l":-2},{"t":88,"h":3,"l":-3},{"t":89,"h":19,"l":-14},{"t":90,"h":13,"l":-10},{"t":91,"h":8,"l":-7},{"t":92,"h":5,"l":-4},{"t":93,"h":3,"l":-3},{"t":94,"h":2,"l":-2},{"t":95,"h":2,"l":-2},{"t":96,"h":2,"l":-2},{"t":97,"h":4,"l":-4},{"t":98,"h":28,"l":-31},{"t":99,"h":18,"l":-19},{"t":100,"h":10,"l":-11},{"t":101,"h":6,"l":-6},{"t":102,"h":4,"l":-4},{"t":103,"h":3,"l":-3},{"t":104,"h":3,"l":-3},{"t":105,"h":3,"l":-3},{"t":106,"h":5,"l":-5},{"t":107,"h":28,"l":-24},{"t":108,"h":17,"l":-15},{"t":109,"h":10,"l":-9},{"t":110,"h":6,"l":-6},{"t":111,"h":4,"l":-4},{"t":112,"h":3,"l":-3},{"t":113,"h":3,"l":-3},{"t":114,"h":3,"l":-3},{"t":115,"h":5,"l":-5},{"t":116,"h":18,"l":-16},{"t":117,"h":11,"l":-10},{"t":118,"h":7,"l":-7},{"t":119,"h":5,"l":-5},{"t":120,"h":4,"l":-4},{"t":121,"h":4,"l":-4},{"t":122,"h":4,"l":-4},{"t":123,"h":6,"l":-5},{"t":124,"h":26,"l":-16},{"t":125,"h":16,"l":-11},{"t":126,"h":10,"l":-8},{"t":127,"h":7,"l":-6},{"t":128,"h":6,"l":-6},{"t":129,"h":9,"l":-6},{"t":130,"h":6,"l":-5},{"t":131,"h":5,"l":-5},{"t":132,"h":5,"l":-5},{"t":133,"h":7,"l":-6},{"t":134,"h":23,"l":-21},{"t":135,"h":14,"l":-13},{"t":136,"h":9,"l":-9},{"t":137,"h":7,"l":-7},{"t":138,"h":10,"l":-8},{"t":139,"h":7,"l":-7},{"t":140,"h":16,"l":-8},{"t":141,"h":7,"l":-6},{"t":142,"h":6,"l":-6},{"t":143,"h":18,"l":-20},{"t":144,"h":12,"l":-13},{"t":145,"h":9,"l":-9},{"t":146,"h":7,"l":-7},{"t":147,"h":14,"l":-10},{"t":148,"h":8,"l":-7},{"t":149,"h":7,"l":-7},{"t":150,"h":6,"l":-6},{"t":151,"h":7,"l":-7},{"t":152,"h":23,"l":-21},{"t":153,"h":14,"l":-13},{"t":154,"h":9,"l":-9},{"t":155,"h":7,"l":-7},{"t":156,"h":8,"l":-8},{"t":157,"h":7,"l":-7},{"t":158,"h":6,"l":-9},{"t":159,"h":6,"l":-6},{"t":160,"h":7,"l":-7},{"t":161,"h":19,"l":-24},{"t":162,"h":12,"l":-15},{"t":163,"h":8,"l":-10},{"t":164,"h":7,"l":-7},{"t":165,"h":6,"l":-6},{"t":166,"h":10,"l":-8},{"t":167,"h":7,"l":-7},{"t":168,"h":6,"l":-6},{"t":169,"h":8,"l":-8},{"t":170,"h":23,"l":-21},{"t":171,"h":15,"l":-13},{"t":172,"h":10,"l":-9},{"t":173,"h":8,"l":-8},{"t":174,"h":7,"l":-7},{"t":175,"h":12,"l":-10},{"t":176,"h":34,"l":-27},{"t":177,"h":21,"l":-17},{"t":178,"h":13,"l":-11},{"t":179,"h":9,"l":-9},{"t":180,"h":8,"l":-8},{"t":181,"h":8,"l":-8},{"t":182,"h":12,"l":-10},{"t":183,"h":43,"l":-38},{"t":184,"h":26,"l":-23},{"t":185,"h":15,"l":-14},{"t":186,"h":10,"l":-10},{"t":187,"h":8,"l":-8},{"t":188,"h":8,"l":-8},{"t":189,"h":7,"l":-7},{"t":190,"h":8,"l":-8},{"t":191,"h":10,"l":-9},{"t":192,"h":29,"l":-28},{"t":193,"h":18,"l":-17},{"t":194,"h":11,"l":-11},{"t":195,"h":8,"l":-8},{"t":196,"h":7,"l":-7},{"t":197,"h":6,"l":-6},{"t":198,"h":5,"l":-5},{"t":199,"h":6,"l":-6},{"t":200,"h":14,"l":-17},{"t":201,"h":9,"l":-11},{"t":202,"h":6,"l":-7},{"t":203,"h":5,"l":-5},{"t":204,"h":11,"l":-6},{"t":205,"h":5,"l":-4},{"t":206,"h":3,"l":-2},{"t":207,"h":1.5,"l":-1.5},{"t":208,"h":0.5,"l":-0.5},{"t":209,"h":0,"l":0},{"t":250,"h":0,"l":0}],
    "mz2": [{"t":0,"h":0,"l":0},{"t":14,"h":0,"l":0},{"t":15,"h":2,"l":-2},{"t":16,"h":1,"l":-1},{"t":17,"h":0,"l":0},{"t":54,"h":0,"l":0},{"t":55,"h":0.5,"l":-0.5},{"t":56,"h":0.5,"l":-0.5},{"t":57,"h":1,"l":-1},{"t":58,"h":1,"l":-1},{"t":59,"h":3,"l":-3},{"t":60,"h":2,"l":-2},{"t":61,"h":1,"l":-1},{"t":62,"h":0.5,"l":-0.5},{"t":63,"h":0.5,"l":-0.5},{"t":64,"h":0.5,"l":-0.5},{"t":65,"h":1,"l":-1},{"t":66,"h":1,"l":-1},{"t":67,"h":2,"l":-2},{"t":68,"h":5,"l":-6},{"t":69,"h":5,"l":-5},{"t":70,"h":4,"l":-3},{"t":71,"h":2,"l":-2},{"t":72,"h":1.5,"l":-1.5},{"t":73,"h":1,"l":-1},{"t":74,"h":1,"l":-1},{"t":75,"h":2,"l":-2},{"t":76,"h":4,"l":-4},{"t":77,"h":4,"l":-4},{"t":78,"h":3,"l":-2},{"t":79,"h":2,"l":-1.5},{"t":80,"h":1,"l":-1},{"t":81,"h":1,"l":-1},{"t":82,"h":1,"l":-1},{"t":83,"h":1,"l":-1},{"t":84,"h":3,"l":-3},{"t":85,"h":13,"l":-10},{"t":86,"h":9,"l":-7},{"t":87,"h":6,"l":-5},{"t":88,"h":4,"l":-3},{"t":89,"h":2,"l":-2},{"t":90,"h":1.5,"l":-1.5},{"t":91,"h":1.5,"l":-1.5},{"t":92,"h":3,"l":-3},{"t":93,"h":10,"l":-8},{"t":94,"h":7,"l":-6},{"t":95,"h":5,"l":-4},{"t":96,"h":3,"l":-3},{"t":97,"h":2,"l":-2},{"t":98,"h":1.5,"l":-1.5},{"t":99,"h":1.5,"l":-1.5},{"t":100,"h":2,"l":-2},{"t":101,"h":4,"l":-4},{"t":102,"h":13,"l":-12},{"t":103,"h":9,"l":-8},{"t":104,"h":6,"l":-5},{"t":105,"h":4,"l":-3},{"t":106,"h":2,"l":-2},{"t":107,"h":2,"l":-2},{"t":108,"h":4,"l":-4},{"t":109,"h":9,"l":-8},{"t":110,"h":7,"l":-6},{"t":111,"h":5,"l":-4},{"t":112,"h":4,"l":-3},{"t":113,"h":3,"l":-3},{"t":114,"h":3,"l":-3},{"t":115,"h":4,"l":-4},{"t":116,"h":5,"l":-5},{"t":117,"h":8,"l":-8},{"t":118,"h":12,"l":-12},{"t":119,"h":25,"l":-29},{"t":120,"h":20,"l":-22},{"t":121,"h":14,"l":-15},{"t":122,"h":10,"l":-10},{"t":123,"h":7,"l":-7},{"t":124,"h":6,"l":-6},{"t":125,"h":6,"l":-6},{"t":126,"h":8,"l":-8},{"t":127,"h":14,"l":-14},{"t":128,"h":33,"l":-37},{"t":129,"h":25,"l":-27},{"t":130,"h":16,"l":-17},{"t":131,"h":11,"l":-11},{"t":132,"h":8,"l":-8},{"t":133,"h":7,"l":-7},{"t":134,"h":7,"l":-7},{"t":135,"h":8,"l":-8},{"t":136,"h":11,"l":-12},{"t":137,"h":19,"l":-24},{"t":138,"h":16,"l":-18},{"t":139,"h":12,"l":-13},{"t":140,"h":10,"l":-10},{"t":141,"h":9,"l":-9},{"t":142,"h":9,"l":-9},{"t":143,"h":10,"l":-10},{"t":144,"h":11,"l":-11},{"t":145,"h":12,"l":-12},{"t":146,"h":13,"l":-13},{"t":147,"h":17,"l":-16},{"t":148,"h":33,"l":-31},{"t":149,"h":25,"l":-23},{"t":150,"h":17,"l":-16},{"t":151,"h":12,"l":-12},{"t":152,"h":10,"l":-10},{"t":153,"h":9,"l":-9},{"t":154,"h":9,"l":-9},{"t":155,"h":10,"l":-10},{"t":156,"h":12,"l":-12},{"t":157,"h":16,"l":-17},{"t":158,"h":26,"l":-31},{"t":159,"h":20,"l":-23},{"t":160,"h":14,"l":-16},{"t":161,"h":11,"l":-12},{"t":162,"h":10,"l":-10},{"t":163,"h":10,"l":-10},{"t":164,"h":12,"l":-12},{"t":165,"h":16,"l":-16},{"t":166,"h":23,"l":-24},{"t":167,"h":19,"l":-19},{"t":168,"h":14,"l":-14},{"t":169,"h":12,"l":-12},{"t":170,"h":11,"l":-11},{"t":171,"h":11,"l":-11},{"t":172,"h":12,"l":-12},{"t":173,"h":13,"l":-13},{"t":174,"h":16,"l":-16},{"t":175,"h":20,"l":-20},{"t":176,"h":31,"l":-32},{"t":177,"h":24,"l":-24},{"t":178,"h":17,"l":-17},{"t":179,"h":12,"l":-12},{"t":180,"h":11,"l":-11},{"t":181,"h":10,"l":-10},{"t":182,"h":11,"l":-11},{"t":183,"h":13,"l":-13},{"t":184,"h":18,"l":-17},{"t":185,"h":34,"l":-29},{"t":186,"h":25,"l":-22},{"t":187,"h":17,"l":-16},{"t":188,"h":12,"l":-12},{"t":189,"h":11,"l":-11},{"t":190,"h":10,"l":-10},{"t":191,"h":11,"l":-11},{"t":192,"h":13,"l":-13},{"t":193,"h":16,"l":-15},{"t":194,"h":22,"l":-20},{"t":195,"h":34,"l":-26},{"t":196,"h":24,"l":-20},{"t":197,"h":16,"l":-14},{"t":198,"h":12,"l":-11},{"t":199,"h":11,"l":-10},{"t":200,"h":10,"l":-10},{"t":201,"h":11,"l":-11},{"t":202,"h":13,"l":-13},{"t":203,"h":16,"l":-16},{"t":204,"h":23,"l":-24},{"t":205,"h":33,"l":-35},{"t":206,"h":24,"l":-25},{"t":207,"h":16,"l":-17},{"t":208,"h":12,"l":-12},{"t":209,"h":10,"l":-10},{"t":210,"h":9,"l":-9},{"t":211,"h":10,"l":-10},{"t":212,"h":15,"l":-13},{"t":213,"h":26,"l":-22},{"t":214,"h":18,"l":-15},{"t":215,"h":11,"l":-9},{"t":216,"h":6,"l":-5},{"t":217,"h":4,"l":-3},{"t":218,"h":2,"l":-2},{"t":219,"h":1,"l":-1},{"t":220,"h":0,"l":0},{"t":250,"h":0,"l":0}]
  },
  "spacing": 45,
  "vconcat": [
    {
      "title": {"text": "female talkers", "fontSize": 37, "anchor": "middle", "dx": -3, "dy": -3, "offset": 0},
      "spacing": 8,
      "vconcat": [
        {
          "spacing": 99,
          "hconcat": [
            {"width": 414, "height": 132, "data": {"name": "fs1"},
             "title": {"text": "[s]", "frame": "group", "dx": 26, "offset": 30},
             "layer": [
               {"mark": {"type": "area", "color": "black", "stroke": "black", "strokeWidth": 0.8},
                "encoding": {
                  "x": {"field": "t", "type": "quantitative", "scale": {"domain": [0, 250], "nice": false, "zero": false}, "axis": {"values": [0, 50, 100, 150, 200, 250], "title": null, "labelFontSize": 20, "labelFlush": false, "labelOverlap": false, "tickSize": -4, "labelPadding": 16, "domain": false}},
                  "y": {"field": "h", "type": "quantitative", "scale": {"domain": [-66, 66]}, "axis": {"title": "pressure", "titleFontSize": 25, "labels": false, "ticks": false, "domain": false, "titlePadding": 12}},
                  "y2": {"field": "l"}
                }},
               {"data": {"values": [{"t": 0}]}, "mark": {"type": "point", "opacity": 0},
                "encoding": {"x": {"field": "t", "type": "quantitative", "axis": {"orient": "top", "values": [50, 100, 150, 200], "labels": false, "domain": false, "tickSize": -4, "title": null}}}}
             ],
             "resolve": {"axis": {"x": "independent"}}},
            {"width": 409, "height": 132, "data": {"name": "fz1"},
             "title": {"text": "[z]", "frame": "group", "dx": 12, "dy": 1, "offset": 30},
             "layer": [
               {"mark": {"type": "area", "color": "black", "stroke": "black", "strokeWidth": 0.8},
                "encoding": {
                  "x": {"field": "t", "type": "quantitative", "scale": {"domain": [0, 250], "nice": false, "zero": false}, "axis": {"values": [0, 50, 100, 150, 200, 250], "title": null, "labelFontSize": 20, "labelFlush": false, "labelOverlap": false, "tickSize": -4, "labelPadding": 16, "domain": false}},
                  "y": {"field": "h", "type": "quantitative", "scale": {"domain": [-66, 66]}, "axis": {"title": "pressure", "titleFontSize": 25, "labels": false, "ticks": false, "domain": false, "titlePadding": 12}},
                  "y2": {"field": "l"}
                }},
               {"data": {"values": [{"t": 0}]}, "mark": {"type": "point", "opacity": 0},
                "encoding": {"x": {"field": "t", "type": "quantitative", "axis": {"orient": "top", "values": [50, 100, 150, 200], "labels": false, "domain": false, "tickSize": -4, "title": null}}}}
             ],
             "resolve": {"axis": {"x": "independent"}}}
          ]
        },
        {
          "spacing": 99,
          "hconcat": [
            {"width": 414, "height": 132, "data": {"name": "fs2"},
             "layer": [
               {"mark": {"type": "area", "color": "black", "stroke": "black", "strokeWidth": 0.8},
                "encoding": {
                  "x": {"field": "t", "type": "quantitative", "scale": {"domain": [0, 250], "nice": false, "zero": false}, "axis": {"values": [0, 50, 100, 150, 200, 250], "title": "time (ms)", "titleFontSize": 22, "titlePadding": 4, "labelFontSize": 20, "labelFlush": false, "labelOverlap": false, "tickSize": -4, "labelPadding": 16, "domain": false}},
                  "y": {"field": "h", "type": "quantitative", "scale": {"domain": [-66, 66]}, "axis": {"title": "pressure", "titleFontSize": 25, "labels": false, "ticks": false, "domain": false, "titlePadding": 12}},
                  "y2": {"field": "l"}
                }},
               {"data": {"values": [{"t": 0}]}, "mark": {"type": "point", "opacity": 0},
                "encoding": {"x": {"field": "t", "type": "quantitative", "axis": {"orient": "top", "values": [50, 100, 150, 200], "labels": false, "domain": false, "tickSize": -4, "title": null}}}}
             ],
             "resolve": {"axis": {"x": "independent"}}},
            {"width": 409, "height": 132, "data": {"name": "fz2"},
             "layer": [
               {"mark": {"type": "area", "color": "black", "stroke": "black", "strokeWidth": 0.8},
                "encoding": {
                  "x": {"field": "t", "type": "quantitative", "scale": {"domain": [0, 250], "nice": false, "zero": false}, "axis": {"values": [0, 50, 100, 150, 200, 250], "title": "time (ms)", "titleFontSize": 22, "titlePadding": 4, "labelFontSize": 20, "labelFlush": false, "labelOverlap": false, "tickSize": -4, "labelPadding": 16, "domain": false}},
                  "y": {"field": "h", "type": "quantitative", "scale": {"domain": [-66, 66]}, "axis": {"title": "pressure", "titleFontSize": 25, "labels": false, "ticks": false, "domain": false, "titlePadding": 12}},
                  "y2": {"field": "l"}
                }},
               {"data": {"values": [{"t": 0}]}, "mark": {"type": "point", "opacity": 0},
                "encoding": {"x": {"field": "t", "type": "quantitative", "axis": {"orient": "top", "values": [50, 100, 150, 200], "labels": false, "domain": false, "tickSize": -4, "title": null}}}}
             ],
             "resolve": {"axis": {"x": "independent"}}}
          ]
        }
      ]
    },
    {
      "title": {"text": "male talkers", "fontSize": 37, "anchor": "middle", "dx": -3, "dy": 18, "offset": 0},
      "spacing": 8,
      "vconcat": [
        {
          "spacing": 99,
          "hconcat": [
            {"width": 414, "height": 132, "data": {"name": "ms1"},
             "title": {"text": "[s]", "frame": "group", "dx": 26, "dy": 6, "offset": 30},
             "layer": [
               {"mark": {"type": "area", "color": "black", "stroke": "black", "strokeWidth": 0.8},
                "encoding": {
                  "x": {"field": "t", "type": "quantitative", "scale": {"domain": [0, 250], "nice": false, "zero": false}, "axis": {"values": [0, 50, 100, 150, 200, 250], "title": null, "labelFontSize": 20, "labelFlush": false, "labelOverlap": false, "tickSize": -4, "labelPadding": 16, "domain": false}},
                  "y": {"field": "h", "type": "quantitative", "scale": {"domain": [-66, 66]}, "axis": {"title": "pressure", "titleFontSize": 25, "labels": false, "ticks": false, "domain": false, "titlePadding": 12}},
                  "y2": {"field": "l"}
                }},
               {"data": {"values": [{"t": 0}]}, "mark": {"type": "point", "opacity": 0},
                "encoding": {"x": {"field": "t", "type": "quantitative", "axis": {"orient": "top", "values": [50, 100, 150, 200], "labels": false, "domain": false, "tickSize": -4, "title": null}}}}
             ],
             "resolve": {"axis": {"x": "independent"}}},
            {"width": 409, "height": 132, "data": {"name": "mz1"},
             "title": {"text": "[z]", "frame": "group", "dx": 12, "dy": 11, "offset": 30},
             "layer": [
               {"mark": {"type": "area", "color": "black", "stroke": "black", "strokeWidth": 0.8},
                "encoding": {
                  "x": {"field": "t", "type": "quantitative", "scale": {"domain": [0, 250], "nice": false, "zero": false}, "axis": {"values": [0, 50, 100, 150, 200, 250], "title": null, "labelFontSize": 20, "labelFlush": false, "labelOverlap": false, "tickSize": -4, "labelPadding": 16, "domain": false}},
                  "y": {"field": "h", "type": "quantitative", "scale": {"domain": [-66, 66]}, "axis": {"title": "pressure", "titleFontSize": 25, "labels": false, "ticks": false, "domain": false, "titlePadding": 12}},
                  "y2": {"field": "l"}
                }},
               {"data": {"values": [{"t": 0}]}, "mark": {"type": "point", "opacity": 0},
                "encoding": {"x": {"field": "t", "type": "quantitative", "axis": {"orient": "top", "values": [50, 100, 150, 200], "labels": false, "domain": false, "tickSize": -4, "title": null}}}}
             ],
             "resolve": {"axis": {"x": "independent"}}}
          ]
        },
        {
          "spacing": 99,
          "hconcat": [
            {"width": 414, "height": 132, "data": {"name": "ms2"},
             "layer": [
               {"mark": {"type": "area", "color": "black", "stroke": "black", "strokeWidth": 0.8},
                "encoding": {
                  "x": {"field": "t", "type": "quantitative", "scale": {"domain": [0, 250], "nice": false, "zero": false}, "axis": {"values": [0, 50, 100, 150, 200, 250], "title": "time (ms)", "titleFontSize": 22, "titlePadding": 4, "labelFontSize": 20, "labelFlush": false, "labelOverlap": false, "tickSize": -4, "labelPadding": 16, "domain": false}},
                  "y": {"field": "h", "type": "quantitative", "scale": {"domain": [-66, 66]}, "axis": {"title": "pressure", "titleFontSize": 25, "labels": false, "ticks": false, "domain": false, "titlePadding": 12}},
                  "y2": {"field": "l"}
                }},
               {"data": {"values": [{"t": 0}]}, "mark": {"type": "point", "opacity": 0},
                "encoding": {"x": {"field": "t", "type": "quantitative", "axis": {"orient": "top", "values": [50, 100, 150, 200], "labels": false, "domain": false, "tickSize": -4, "title": null}}}}
             ],
             "resolve": {"axis": {"x": "independent"}}},
            {"width": 409, "height": 132, "data": {"name": "mz2"},
             "layer": [
               {"mark": {"type": "area", "color": "black", "stroke": "black", "strokeWidth": 0.8},
                "encoding": {
                  "x": {"field": "t", "type": "quantitative", "scale": {"domain": [0, 250], "nice": false, "zero": false}, "axis": {"values": [0, 50, 100, 150, 200, 250], "title": "time (ms)", "titleFontSize": 22, "titlePadding": 4, "labelFontSize": 20, "labelFlush": false, "labelOverlap": false, "tickSize": -4, "labelPadding": 16, "domain": false}},
                  "y": {"field": "h", "type": "quantitative", "scale": {"domain": [-66, 66]}, "axis": {"title": "pressure", "titleFontSize": 25, "labels": false, "ticks": false, "domain": false, "titlePadding": 12}},
                  "y2": {"field": "l"}
                }},
               {"data": {"values": [{"t": 0}]}, "mark": {"type": "point", "opacity": 0},
                "encoding": {"x": {"field": "t", "type": "quantitative", "axis": {"orient": "top", "values": [50, 100, 150, 200], "labels": false, "domain": false, "tickSize": -4, "title": null}}}}
             ],
             "resolve": {"axis": {"x": "independent"}}}
          ]
        }
      ]
    }
  ]
}
